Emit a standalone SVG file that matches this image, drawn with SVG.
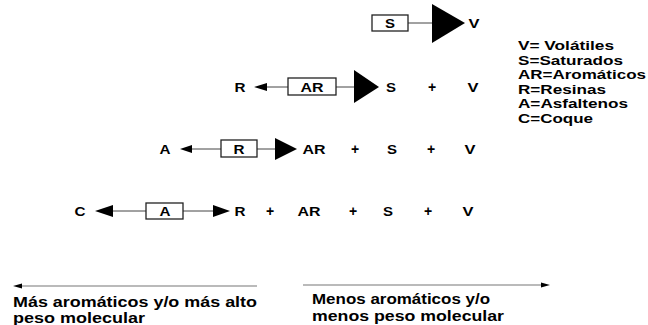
<svg xmlns="http://www.w3.org/2000/svg" width="648" height="325" viewBox="0 0 648 325">
<style>
.t{font-family:"Liberation Sans",Arial,sans-serif;font-weight:bold;fill:#000;}
.l{font-size:13px;text-anchor:middle;}
.p{font-size:14px;text-anchor:middle;}
.g{font-size:13px;}
.b{font-size:15px;}
.box{fill:#fff;stroke:#222;stroke-width:1.3;}
.ln{stroke:#444;stroke-width:1;fill:none;}
.tri{fill:#000;}
</style>
<rect width="648" height="325" fill="#fff"/>
<g id="connectors">
  <line class="ln" x1="408" y1="23" x2="432" y2="23"/>
  <polygon class="tri" points="432,4 465,23 432,43"/>
  <line class="ln" x1="264" y1="87" x2="288" y2="87"/>
  <polygon class="tri" points="254,87 267,83 267,91"/>
  <line class="ln" x1="336" y1="87" x2="354" y2="87"/>
  <polygon class="tri" points="354,70 379,87 354,103"/>
  <line class="ln" x1="190" y1="149" x2="221" y2="149"/>
  <polygon class="tri" points="180,149 192,145 192,153"/>
  <line class="ln" x1="257" y1="149" x2="275" y2="149"/>
  <polygon class="tri" points="275,138 297,149 275,160"/>
  <line class="ln" x1="110" y1="211" x2="146" y2="211"/>
  <polygon class="tri" points="95,211 113,205 113,217"/>
  <line class="ln" x1="183" y1="211" x2="215" y2="211"/>
  <polygon class="tri" points="230,211 213,205 213,217"/>
  <line stroke="#777" stroke-width="1.2" x1="20" y1="286" x2="257" y2="286"/>
  <polygon class="tri" points="13,286 22,283.5 22,288.5"/>
  <line stroke="#777" stroke-width="1.2" x1="303" y1="285" x2="542" y2="285"/>
  <polygon class="tri" points="550,285 541,282.5 541,287.5"/>
</g>
<g id="row1">
  <g id="n-S1"><rect class="box" x="372" y="15" width="36" height="16"/><text class="t l" x="390" y="27.7" textLength="10" lengthAdjust="spacingAndGlyphs">S</text></g>
  <text class="t l" x="474" y="27.7" textLength="11" lengthAdjust="spacingAndGlyphs">V</text>
</g>
<g id="row2">
  <text class="t l" x="240" y="91.7" textLength="11" lengthAdjust="spacingAndGlyphs">R</text>
  <g id="n-AR"><rect class="box" x="288" y="78" width="48" height="17"/><text class="t l" x="312" y="91.7" textLength="23" lengthAdjust="spacingAndGlyphs">AR</text></g>
  <text class="t l" x="391" y="91.7" textLength="10" lengthAdjust="spacingAndGlyphs">S</text>
  <text class="t p" x="432" y="92">+</text>
  <text class="t l" x="473" y="91.7" textLength="11" lengthAdjust="spacingAndGlyphs">V</text>
</g>
<g id="row3">
  <text class="t l" x="165" y="153.7" textLength="11" lengthAdjust="spacingAndGlyphs">A</text>
  <g id="n-R"><rect class="box" x="221" y="140" width="36" height="17"/><text class="t l" x="239" y="153.7" textLength="11" lengthAdjust="spacingAndGlyphs">R</text></g>
  <text class="t l" x="314" y="153.7" textLength="23" lengthAdjust="spacingAndGlyphs">AR</text>
  <text class="t p" x="355" y="154">+</text>
  <text class="t l" x="392" y="153.7" textLength="10" lengthAdjust="spacingAndGlyphs">S</text>
  <text class="t p" x="431" y="154">+</text>
  <text class="t l" x="470" y="153.7" textLength="11" lengthAdjust="spacingAndGlyphs">V</text>
</g>
<g id="row4">
  <text class="t l" x="80" y="215.7" textLength="11" lengthAdjust="spacingAndGlyphs">C</text>
  <g id="n-A"><rect class="box" x="146" y="203" width="37" height="16"/><text class="t l" x="165" y="215.7" textLength="11" lengthAdjust="spacingAndGlyphs">A</text></g>
  <text class="t l" x="240" y="215.7" textLength="11" lengthAdjust="spacingAndGlyphs">R</text>
  <text class="t p" x="270" y="216">+</text>
  <text class="t l" x="309" y="215.7" textLength="23" lengthAdjust="spacingAndGlyphs">AR</text>
  <text class="t p" x="353" y="216">+</text>
  <text class="t l" x="388" y="215.7" textLength="10" lengthAdjust="spacingAndGlyphs">S</text>
  <text class="t p" x="428" y="216">+</text>
  <text class="t l" x="468" y="215.7" textLength="11" lengthAdjust="spacingAndGlyphs">V</text>
</g>
<g id="legend">
  <text class="t g" x="518" y="50" textLength="96" lengthAdjust="spacingAndGlyphs">V= Volátiles</text>
  <text class="t g" x="518" y="64.5" textLength="105" lengthAdjust="spacingAndGlyphs">S=Saturados</text>
  <text class="t g" x="518" y="79" textLength="128" lengthAdjust="spacingAndGlyphs">AR=Aromáticos</text>
  <text class="t g" x="518" y="93.5" textLength="88" lengthAdjust="spacingAndGlyphs">R=Resinas</text>
  <text class="t g" x="518" y="108" textLength="110" lengthAdjust="spacingAndGlyphs">A=Asfaltenos</text>
  <text class="t g" x="518" y="122.5" textLength="75" lengthAdjust="spacingAndGlyphs">C=Coque</text>
</g>
<g id="bottom">
  <text class="t b" x="13" y="307" textLength="244" lengthAdjust="spacingAndGlyphs">Más aromáticos y/o más alto</text>
  <text class="t b" x="13" y="323" textLength="132" lengthAdjust="spacingAndGlyphs">peso molecular</text>
  <text class="t b" x="312" y="304" textLength="178" lengthAdjust="spacingAndGlyphs">Menos aromáticos y/o</text>
  <text class="t b" x="312" y="321" textLength="192" lengthAdjust="spacingAndGlyphs">menos peso molecular</text>
</g>
</svg>
